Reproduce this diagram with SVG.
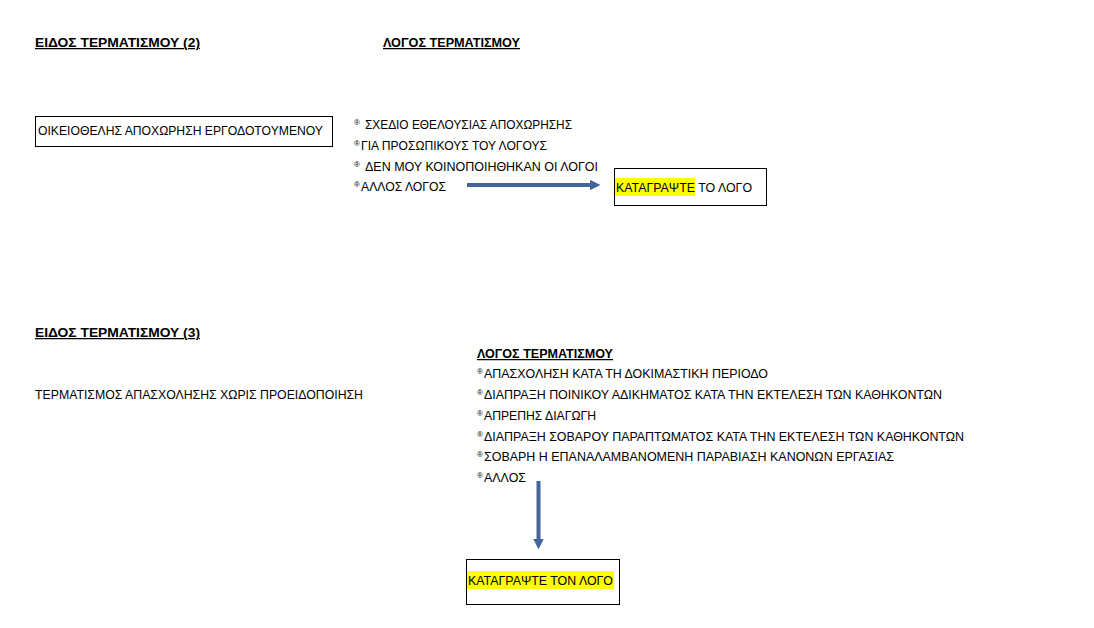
<svg xmlns="http://www.w3.org/2000/svg" width="1094" height="628" viewBox="0 0 1094 628">
<style>
text{font-family:"Liberation Sans",Arial,sans-serif;font-size:12.5px;fill:#000}
.b{font-weight:bold;text-decoration:underline}
.bul{font-size:8px}
.box{fill:#fff;stroke:#000;stroke-width:1}
.hl{fill:#ffff00}
.arr{stroke:#44659a;stroke-width:4;fill:none}
</style>
<defs>
<marker id="ah" markerWidth="2.6" markerHeight="2.6" refX="0.5" refY="1.3" orient="auto" markerUnits="strokeWidth">
<path d="M0,0 L2.6,1.3 L0,2.6 Z" fill="#44659a"/>
</marker>
</defs>
<rect width="1094" height="628" fill="#fff"/>

<g id="title2">
<text class="b" x="35" y="47" textLength="165" lengthAdjust="spacingAndGlyphs">ΕΙΔΟΣ ΤΕΡΜΑΤΙΣΜΟΥ (2)</text>
<text class="b" x="383" y="47" textLength="137" lengthAdjust="spacingAndGlyphs">ΛΟΓΟΣ ΤΕΡΜΑΤΙΣΜΟΥ</text>
</g>

<g id="node-oikeiothelis">
<rect class="box" x="35.5" y="116.5" width="297" height="30"/>
<text x="38" y="135" textLength="285" lengthAdjust="spacingAndGlyphs">ΟΙΚΕΙΟΘΕΛΗΣ ΑΠΟΧΩΡΗΣΗ ΕΡΓΟΔΟΤΟΥΜΕΝΟΥ</text>
</g>

<g id="reasons2">
<text class="bul" x="354" y="125">®</text>
<text x="365" y="129" textLength="207" lengthAdjust="spacingAndGlyphs">ΣΧΕΔΙΟ ΕΘΕΛΟΥΣΙΑΣ ΑΠΟΧΩΡΗΣΗΣ</text>
<text class="bul" x="354" y="146">®</text>
<text x="361" y="150" textLength="186" lengthAdjust="spacingAndGlyphs">ΓΙΑ ΠΡΟΣΩΠΙΚΟΥΣ ΤΟΥ ΛΟΓΟΥΣ</text>
<text class="bul" x="354" y="167">®</text>
<text x="365" y="171" textLength="233" lengthAdjust="spacingAndGlyphs">ΔΕΝ ΜΟΥ ΚΟΙΝΟΠΟΙΗΘΗΚΑΝ ΟΙ ΛΟΓΟΙ</text>
<text class="bul" x="354" y="187">®</text>
<text x="361" y="191" textLength="85" lengthAdjust="spacingAndGlyphs">ΑΛΛΟΣ ΛΟΓΟΣ</text>
</g>

<g id="node-katagrapste1">
<rect class="box" x="614.5" y="168.5" width="152" height="37"/>
<rect class="hl" x="615" y="178" width="80" height="18"/>
<text x="616" y="192" textLength="136" lengthAdjust="spacingAndGlyphs">ΚΑΤΑΓΡΑΨΤΕ ΤΟ ΛΟΓΟ</text>
</g>

<g id="title3">
<text class="b" x="35" y="337" textLength="165" lengthAdjust="spacingAndGlyphs">ΕΙΔΟΣ ΤΕΡΜΑΤΙΣΜΟΥ (3)</text>
</g>

<g id="node-xoris-proeidopoiisi">
<text x="35" y="399" textLength="328" lengthAdjust="spacingAndGlyphs">ΤΕΡΜΑΤΙΣΜΟΣ ΑΠΑΣΧΟΛΗΣΗΣ ΧΩΡΙΣ ΠΡΟΕΙΔΟΠΟΙΗΣΗ</text>
</g>

<g id="reasons3">
<text class="b" x="477" y="358" textLength="136" lengthAdjust="spacingAndGlyphs">ΛΟΓΟΣ ΤΕΡΜΑΤΙΣΜΟΥ</text>
<text class="bul" x="477" y="374">®</text>
<text x="484" y="378" textLength="284" lengthAdjust="spacingAndGlyphs">ΑΠΑΣΧΟΛΗΣΗ ΚΑΤΑ ΤΗ ΔΟΚΙΜΑΣΤΙΚΗ ΠΕΡΙΟΔΟ</text>
<text class="bul" x="477" y="395">®</text>
<text x="484" y="399" textLength="458" lengthAdjust="spacingAndGlyphs">ΔΙΑΠΡΑΞΗ ΠΟΙΝΙΚΟΥ ΑΔΙΚΗΜΑΤΟΣ ΚΑΤΑ ΤΗΝ ΕΚΤΕΛΕΣΗ ΤΩΝ ΚΑΘΗΚΟΝΤΩΝ</text>
<text class="bul" x="477" y="416">®</text>
<text x="484" y="420" textLength="112" lengthAdjust="spacingAndGlyphs">ΑΠΡΕΠΗΣ ΔΙΑΓΩΓΗ</text>
<text class="bul" x="477" y="437">®</text>
<text x="484" y="441" textLength="480" lengthAdjust="spacingAndGlyphs">ΔΙΑΠΡΑΞΗ ΣΟΒΑΡΟΥ ΠΑΡΑΠΤΩΜΑΤΟΣ ΚΑΤΑ ΤΗΝ ΕΚΤΕΛΕΣΗ ΤΩΝ ΚΑΘΗΚΟΝΤΩΝ</text>
<text class="bul" x="477" y="457">®</text>
<text x="484" y="461" textLength="410" lengthAdjust="spacingAndGlyphs">ΣΟΒΑΡΗ Η ΕΠΑΝΑΛΑΜΒΑΝΟΜΕΝΗ ΠΑΡΑΒΙΑΣΗ ΚΑΝΟΝΩΝ ΕΡΓΑΣΙΑΣ</text>
<text class="bul" x="477" y="478">®</text>
<text x="484" y="482" textLength="42" lengthAdjust="spacingAndGlyphs">ΑΛΛΟΣ</text>
</g>

<g id="node-katagrapste2">
<rect class="box" x="466.5" y="559.5" width="153" height="45"/>
<rect class="hl" x="467" y="571" width="147" height="18"/>
<text x="468" y="585" textLength="145" lengthAdjust="spacingAndGlyphs">ΚΑΤΑΓΡΑΨΤΕ ΤΟΝ ΛΟΓΟ</text>
</g>

<g id="connectors">
<line class="arr" x1="467" y1="185" x2="592" y2="185" marker-end="url(#ah)"/>
<line class="arr" x1="538.5" y1="481" x2="538.5" y2="541" marker-end="url(#ah)"/>
</g>
</svg>
